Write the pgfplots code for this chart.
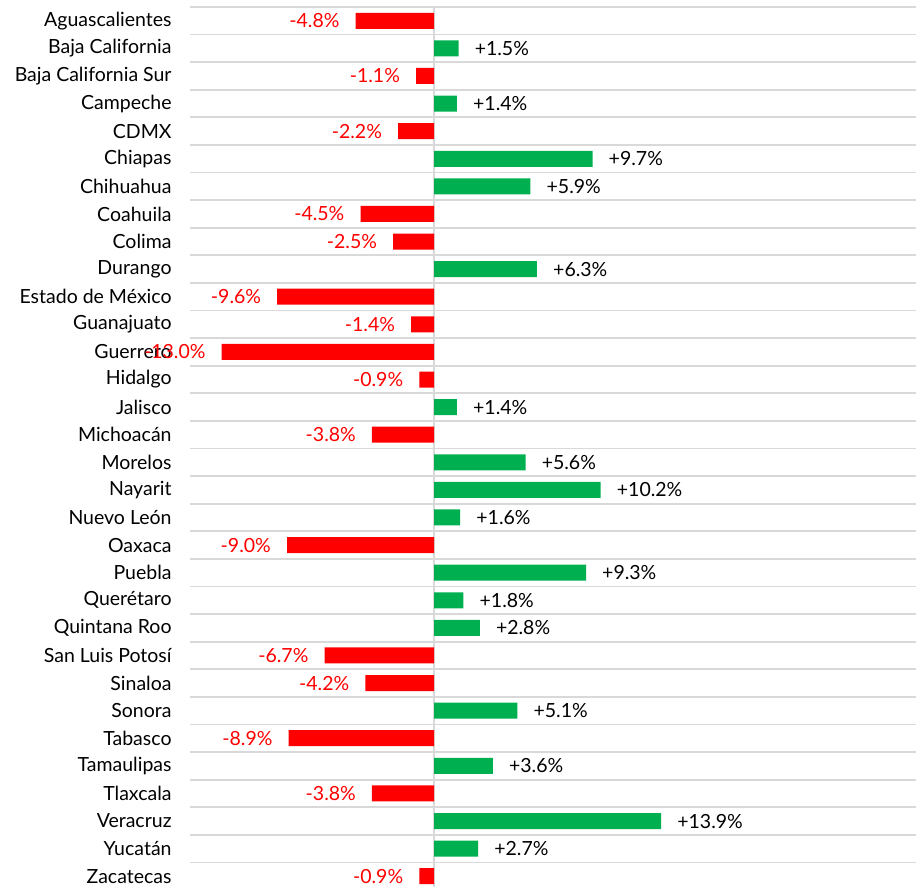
\documentclass[border=0pt]{standalone}
\usepackage{fontspec}
\setmainfont{Lato}
\usepackage{pgfplots}
\usepackage{pgfplotstable}
\pgfplotsset{compat=1.18}
\definecolor{negred}{HTML}{FF0000}
\definecolor{posgreen}{HTML}{00B050}
\definecolor{gridgray}{HTML}{D9D9D9}

\pgfplotstableread{
y x
0 -4.8
2 -1.1
4 -2.2
7 -4.5
8 -2.5
10 -9.6
11 -1.4
12 -13.0
13 -0.9
15 -3.8
19 -9.0
23 -6.7
24 -4.2
26 -8.9
28 -3.8
31 -0.9
}\negdata

\pgfplotstableread{
y x
1 1.5
3 1.4
5 9.7
6 5.9
9 6.3
14 1.4
16 5.6
17 10.2
18 1.6
20 9.3
21 1.8
22 2.8
25 5.1
27 3.6
29 13.9
30 2.7
}\posdata

\begin{document}
\begin{tikzpicture}
\begin{axis}[
  scale only axis, width=726bp, height=883bp,
  axis line style={draw=none},
  tick style={draw=none},
  xmin=-14.94, xmax=29.5, ymin=-0.5, ymax=31.5, y dir=reverse,
  ytick={0,...,31},
  yticklabels={Aguascalientes,Baja California,Baja California Sur,Campeche,CDMX,Chiapas,Chihuahua,Coahuila,Colima,Durango,Estado de México,Guanajuato,Guerrero,Hidalgo,Jalisco,Michoacán,Morelos,Nayarit,Nuevo León,Oaxaca,Puebla,Querétaro,Quintana Roo,San Luis Potosí,Sinaloa,Sonora,Tabasco,Tamaulipas,Tlaxcala,Veracruz,Yucatán,Zacatecas},
  minor ytick={-0.5,0.5,...,30.5},
  yminorgrids, minor grid style={gridgray, line width=1.8bp},
  xtick={0}, xticklabels={}, xmajorgrids, major grid style={gridgray, line width=1.8bp},
  ymajorgrids=false,
  yticklabel style={font=\fontsize{19.5bp}{22bp}\selectfont, text=black, inner sep=0pt, xshift=-14bp},
  xbar, bar width=16bp, bar shift=0pt,
  clip=false,
  /pgf/number format/assume math mode=true,
  nodes near coords={\pgfmathprintnumber[fixed,fixed zerofill,precision=1,showpos]{\pgfplotspointmeta}\%},
  point meta=x,
]
\addplot[fill=negred, draw=none,
  every node near coord/.append style={anchor=east, inner sep=0pt, xshift=-16bp, text=negred, font=\fontsize{19.5bp}{22bp}\selectfont}]
  table[x=x,y=y]{\negdata};
\addplot[fill=posgreen, draw=none,
  every node near coord/.append style={anchor=west, inner sep=0pt, xshift=16bp, text=black, font=\fontsize{19.5bp}{22bp}\selectfont}]
  table[x=x,y=y]{\posdata};
\end{axis}
\pgfresetboundingbox
\path[use as bounding box] ([xshift=-190bp, yshift=3bp]current axis.south west) rectangle ([yshift=7bp]current axis.north east);
\end{tikzpicture}
\end{document}
